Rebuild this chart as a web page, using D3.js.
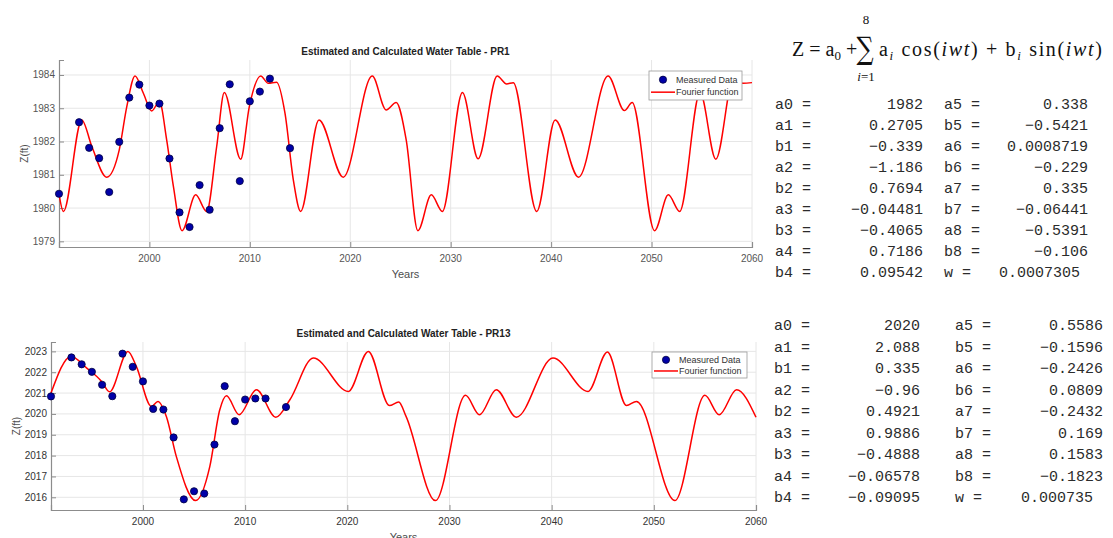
<!DOCTYPE html>
<html>
<head>
<meta charset="utf-8">
<script src="https://cdn.jsdelivr.net/npm/d3@7"></script>
<style>
    body { margin: 0; background: #fff; }
    svg { display: block; }
    .tick-label { font-family: "Liberation Sans", Arial, sans-serif; font-size: 10px; fill: #4d4d4d; }
    .coef { font-family: "Liberation Mono", "Courier New", monospace; font-size: 15px; fill: #2b2b2b; }
</style>
</head>
<body>
<div id="chart"></div>
<script>
// Measured years (same for both wells)
const measuredYears = [1991, 1993, 1994, 1995, 1996, 1997, 1998, 1999, 2000, 2001, 2002,
    2003, 2004, 2005, 2006, 2007, 2008, 2009, 2010, 2011, 2012, 2014];

// PR1 measured water table (ft)
const pr1Measured = [1980.43, 1982.58, 1981.81, 1981.5, 1980.48, 1981.99, 1983.32, 1983.71, 1983.08, 1983.14, 1981.49,
    1979.87, 1979.43, 1980.69, 1979.95, 1982.4, 1983.72, 1980.81, 1983.21, 1983.5, 1983.89, 1981.8];

// PR13 measured water table (ft)
const pr13Measured = [2020.84, 2022.71, 2022.38, 2022.02, 2021.4, 2020.85, 2022.89, 2022.26, 2021.56, 2020.24, 2020.21,
    2018.87, 2015.9, 2016.29, 2016.18, 2018.53, 2021.33, 2019.65, 2020.69, 2020.74, 2020.74, 2020.33];

// Fourier curve (PR1)
const pr1CurveYears = [1991, 1991.44, 1993.27, 1994.27, 1995.75, 1997.0, 1997.75, 1998.57, 1999.4, 2000.23, 2001.0,
    2001.72, 2002.39, 2003.25, 2004.61, 2005.7, 2006.7, 2007.46, 2009.09, 2009.95, 2011.08, 2011.84, 2012.67, 2013.5,
    2014.33, 2015.06, 2016.88, 2019.3, 2022.19, 2023.57, 2024.57, 2025.57, 2026.73, 2028.07, 2029.17, 2031.17, 2032.73,
    2034.63, 2035.57, 2036.23, 2038.57, 2040.4, 2042.73, 2045.67, 2047.3, 2048.07, 2050.3, 2051.67, 2052.8, 2054.83,
    2056.4, 2058.2, 2059.1, 2060];
const pr1CurveZ = [1980.43, 1979.9, 1982.65, 1981.85, 1980.93, 1981.75, 1983.05, 1983.97, 1983.45, 1982.92, 1983.2,
    1982.05, 1980.65, 1979.32, 1980.4, 1979.9, 1981.85, 1983.47, 1981.47, 1983.05, 1983.97, 1983.75, 1983.78, 1982.85,
    1980.85, 1979.9, 1982.65, 1980.93, 1983.97, 1982.95, 1983.17, 1982.05, 1979.32, 1980.4, 1979.9, 1983.47, 1981.48,
    1983.97, 1983.73, 1983.77, 1979.9, 1982.65, 1980.93, 1983.97, 1982.93, 1983.17, 1979.32, 1980.4, 1979.9, 1983.47,
    1981.47, 1983.97, 1983.75, 1983.77];

// Fourier curve (PR13)
const pr13CurveYears = [1991, 1992.97, 1994.5, 1995.95, 1996.73, 1998.53, 1999.35, 2000.82, 2001.47, 2002.29, 2003.27,
    2005.16, 2006.54, 2007.52, 2008.17, 2009.41, 2011.11, 2013.0, 2014.38, 2016.67, 2020.1, 2022.06, 2024.12, 2025.03,
    2025.75, 2028.63, 2031.57, 2032.94, 2034.58, 2036.54, 2040.13, 2043.56, 2045.46, 2047.32, 2048.3, 2052.06, 2055.0,
    2056.4, 2058.1, 2060];
const pr13CurveZ = [2021.0, 2022.76, 2022.2, 2021.56, 2021.06, 2023.0, 2022.28, 2020.36, 2020.6, 2019.88, 2017.95,
    2015.84, 2017.47, 2020.2, 2020.87, 2019.96, 2021.16, 2019.84, 2020.68, 2022.68, 2021.08, 2023.0, 2020.4, 2020.57,
    2019.88, 2015.84, 2020.89, 2019.96, 2021.16, 2019.84, 2022.68, 2021.08, 2022.97, 2020.4, 2020.6, 2015.84, 2020.89,
    2019.96, 2021.16, 2019.84];

// Tick labels
const xTicks = [2000, 2010, 2020, 2030, 2040, 2050, 2060];
const pr1YTicks = [1979, 1980, 1981, 1982, 1983, 1984];
const pr13YTicks = [2016, 2017, 2018, 2019, 2020, 2021, 2022, 2023];

// Coefficient tables
const coefNamesLeft = ['a0', 'a1', 'b1', 'a2', 'b2', 'a3', 'b3', 'a4', 'b4'];
const coefNamesRight = ['a5', 'b5', 'a6', 'b6', 'a7', 'b7', 'a8', 'b8', 'w'];
const pr1CoefLeft = ['1982', '0.2705', '\u22120.339', '\u22121.186', '0.7694', '\u22120.04481', '\u22120.4065', '0.7186', '0.09542'];
const pr1CoefRight = ['0.338', '\u22120.5421', '0.0008719', '\u22120.229', '0.335', '\u22120.06441', '\u22120.5391', '\u22120.106', '0.0007305'];
const pr13CoefLeft = ['2020', '2.088', '0.335', '\u22120.96', '0.4921', '0.9886', '\u22120.4888', '\u22120.06578', '\u22120.09095'];
const pr13CoefRight = ['0.5586', '\u22120.1596', '\u22120.2426', '0.0809', '\u22120.2432', '0.169', '0.1583', '\u22120.1823', '0.000735'];

const width = 1113, height = 538;

const svg = d3.select('#chart')
    .append('svg')
    .attr('width', width)
    .attr('height', height);

svg.append('rect').attr('width', width).attr('height', height).attr('fill', '#fff');

// Draw one MATLAB-style panel
function drawPanel(cfg) {
    const x = d3.scaleLinear().domain([1991, 2060]).range([cfg.left, cfg.right]);
    const y = d3.scaleLinear().domain(cfg.yDomain).range([cfg.bottom, cfg.top]);
    const g = svg.append('g');

    // Grid
    g.selectAll('.vgrid').data(xTicks).enter().append('line')
        .attr('x1', d => x(d)).attr('x2', d => x(d))
        .attr('y1', cfg.top).attr('y2', cfg.bottom)
        .attr('stroke', '#e6e6e6').attr('stroke-width', 1);
    g.selectAll('.hgrid').data(cfg.yTicks).enter().append('line')
        .attr('x1', cfg.left).attr('x2', cfg.right)
        .attr('y1', d => y(d)).attr('y2', d => y(d))
        .attr('stroke', '#e6e6e6').attr('stroke-width', 1);

    // Axes (ticks pointing inward)
    const xAxis = g.append('g')
        .attr('transform', `translate(0,${cfg.bottom})`)
        .call(d3.axisTop(x).tickValues(xTicks).tickSize(5).tickFormat(''));
    const yAxis = g.append('g')
        .attr('transform', `translate(${cfg.left},0)`)
        .call(d3.axisRight(y).tickValues(cfg.yTicks).tickSize(5).tickFormat(''));
    [xAxis, yAxis].forEach(a => {
        a.select('.domain').attr('stroke', '#8c8c8c').attr('stroke-width', 1.2);
        a.selectAll('.tick line').attr('stroke', '#8c8c8c');
    });

    g.selectAll('.xlab').data(xTicks).enter().append('text')
        .attr('class', 'tick-label')
        .attr('x', d => x(d)).attr('y', cfg.bottom + 15)
        .attr('text-anchor', 'middle')
        .style('fill', cfg.labelColor)
        .text(d => d);
    g.selectAll('.ylab').data(cfg.yTicks).enter().append('text')
        .attr('class', 'tick-label')
        .attr('x', cfg.left - 4).attr('y', d => y(d) + 3.5)
        .attr('text-anchor', 'end')
        .style('fill', cfg.labelColor)
        .text(d => d);

    // Titles
    g.append('text')
        .attr('x', (cfg.left + cfg.right) / 2).attr('y', cfg.top - 5)
        .attr('text-anchor', 'middle')
        .style('font-family', '"Liberation Sans", Arial, sans-serif')
        .style('font-size', '10px').style('font-weight', 'bold').style('fill', '#222')
        .text(cfg.title);
    g.append('text')
        .attr('x', (cfg.left + cfg.right) / 2).attr('y', cfg.bottom + 31)
        .attr('text-anchor', 'middle')
        .style('font-family', '"Liberation Sans", Arial, sans-serif')
        .style('font-size', '11px').style('fill', '#4d4d4d')
        .text('Years');
    g.append('text')
        .attr('transform', `translate(${cfg.yLabelX},${(cfg.top + cfg.bottom) / 2}) rotate(-90)`)
        .attr('text-anchor', 'middle')
        .style('font-family', '"Liberation Sans", Arial, sans-serif')
        .style('font-size', '10px').style('fill', '#4d4d4d')
        .text('Z(ft)');

    // Fourier curve
    const curve = cfg.curveYears.map((yr, i) => [yr, cfg.curveZ[i]]);
    const line = d3.line()
        .x(d => x(d[0])).y(d => y(d[1]))
        .curve(d3.curveMonotoneX);
    g.append('path')
        .datum(curve)
        .attr('d', line)
        .attr('fill', 'none')
        .attr('stroke', '#ff0000')
        .attr('stroke-width', 1.5);

    // Measured data
    g.selectAll('.pt').data(measuredYears).enter().append('circle')
        .attr('cx', d => x(d))
        .attr('cy', (d, i) => y(cfg.measured[i]))
        .attr('r', 3.6)
        .attr('fill', '#0000a8')
        .attr('stroke', '#000040')
        .attr('stroke-width', 0.8);

    // Legend
    const lg = g.append('g').attr('transform', `translate(${cfg.legend[0]},${cfg.legend[1]})`);
    lg.append('rect')
        .attr('width', cfg.legend[2]).attr('height', cfg.legend[3])
        .attr('fill', '#fff').attr('stroke', '#9a9a9a').attr('stroke-width', 0.8);
    lg.append('circle')
        .attr('cx', 14).attr('cy', cfg.legend[3] * 0.3).attr('r', 3.6)
        .attr('fill', '#0000a8').attr('stroke', '#000040').attr('stroke-width', 0.8);
    lg.append('line')
        .attr('x1', 2).attr('x2', 26)
        .attr('y1', cfg.legend[3] * 0.73).attr('y2', cfg.legend[3] * 0.73)
        .attr('stroke', '#ff0000').attr('stroke-width', 1.5);
    const legendText = ['Measured Data', 'Fourier function'];
    lg.selectAll('.lt').data(legendText).enter().append('text')
        .attr('x', 27)
        .attr('y', (d, i) => cfg.legend[3] * (i === 0 ? 0.3 : 0.73) + 3.2)
        .style('font-family', '"Liberation Sans", Arial, sans-serif')
        .style('font-size', '9px').style('fill', '#333')
        .text(d => d);
}

drawPanel({
    left: 59, right: 752, top: 60, bottom: 247,
    yDomain: [1978.83, 1984.45], yTicks: pr1YTicks,
    title: 'Estimated and Calculated Water Table - PR1',
    yLabelX: 28, labelColor: '#555',
    curveYears: pr1CurveYears, curveZ: pr1CurveZ, measured: pr1Measured,
    legend: [649, 71, 93, 29]
});

drawPanel({
    left: 51, right: 756, top: 342, bottom: 510,
    yDomain: [2015.39, 2023.45], yTicks: pr13YTicks,
    title: 'Estimated and Calculated Water Table - PR13',
    yLabelX: 20, labelColor: '#333',
    curveYears: pr13CurveYears, curveZ: pr13CurveZ, measured: pr13Measured,
    legend: [652, 352, 95, 26]
});

// Formula
const formula = svg.append('g')
    .style('font-family', '"Liberation Serif", "DejaVu Serif", serif')
    .style('fill', '#111');
const lhs = formula.append('text').attr('x', 792).attr('y', 56).style('font-size', '20px');
lhs.append('tspan').text('Z = a');
lhs.append('tspan').attr('dy', 4).style('font-size', '13px').text('0');
lhs.append('tspan').attr('dy', -4).text(' +');
formula.append('text')
    .attr('transform', 'translate(865,59) scale(1,1.3)')
    .attr('text-anchor', 'middle')
    .style('font-family', '"DejaVu Serif", serif')
    .style('font-size', '24px').text('\u2211');
formula.append('text').attr('x', 866).attr('y', 24).attr('text-anchor', 'middle')
    .style('font-size', '13px').text('8');
const sub = formula.append('text').attr('x', 866).attr('y', 81).attr('text-anchor', 'middle')
    .style('font-size', '13px');
sub.append('tspan').style('font-style', 'italic').text('i');
sub.append('tspan').text('=1');
const rhs = formula.append('text').attr('x', 879).attr('y', 56).style('font-size', '20px')
    .attr('textLength', 223).attr('lengthAdjust', 'spacing');
rhs.append('tspan').text('a');
rhs.append('tspan').attr('dy', 4).style('font-size', '13px').style('font-style', 'italic').text('i');
rhs.append('tspan').attr('dy', -4).text(' cos(');
rhs.append('tspan').style('font-style', 'italic').text('iwt');
rhs.append('tspan').text(') + b');
rhs.append('tspan').attr('dy', 4).style('font-size', '13px').style('font-style', 'italic').text('i');
rhs.append('tspan').attr('dy', -4).text(' sin(');
rhs.append('tspan').style('font-style', 'italic').text('iwt');
rhs.append('tspan').text(')');

// Coefficient tables
function drawTable(cfg) {
    const rows = d3.range(coefNamesLeft.length);
    const g = svg.append('g');
    const rowY = i => cfg.y0 + i * cfg.step;
    g.selectAll('.n1').data(rows).enter().append('text').attr('class', 'coef')
        .attr('x', cfg.x1).attr('y', rowY).text(i => coefNamesLeft[i] + ' =');
    g.selectAll('.v1').data(rows).enter().append('text').attr('class', 'coef')
        .attr('x', cfg.v1).attr('y', rowY).attr('text-anchor', 'end').text(i => cfg.left[i]);
    g.selectAll('.n2').data(rows).enter().append('text').attr('class', 'coef')
        .attr('x', cfg.x2).attr('y', rowY)
        .text(i => coefNamesRight[i] + ' =');
    g.selectAll('.v2').data(rows).enter().append('text').attr('class', 'coef')
        .attr('x', i => coefNamesRight[i] === 'w' ? cfg.wEnd : cfg.v2).attr('y', rowY)
        .attr('text-anchor', 'end').text(i => cfg.right[i]);
}

drawTable({ x1: 775, v1: 923, x2: 944, v2: 1088, wEnd: 1080, y0: 108.5, step: 21.04,
    left: pr1CoefLeft, right: pr1CoefRight });
drawTable({ x1: 774, v1: 920, x2: 955, v2: 1103, wEnd: 1093, y0: 330.3, step: 21.46,
    left: pr13CoefLeft, right: pr13CoefRight });
</script>
</body>
</html>
